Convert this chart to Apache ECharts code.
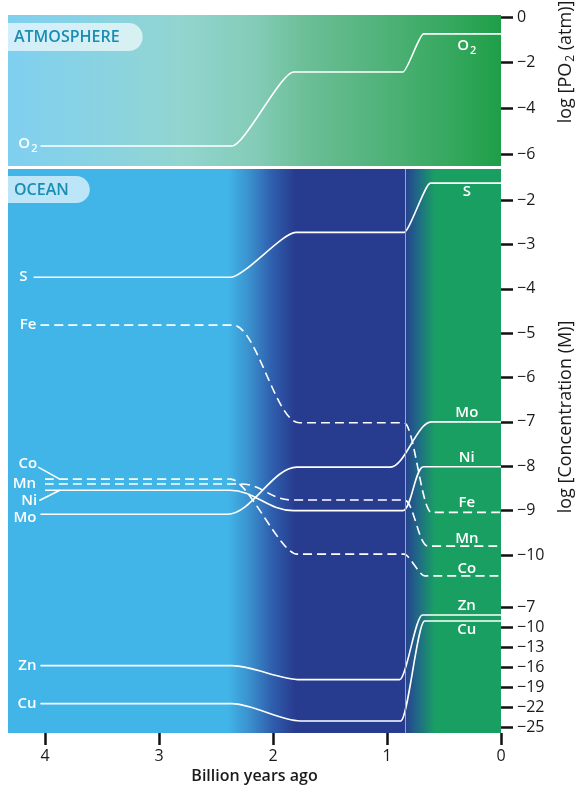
<!DOCTYPE html>
<html><head><meta charset="utf-8">
<script src="https://cdn.jsdelivr.net/npm/echarts@6/dist/echarts.min.js"></script>
<style>html,body{margin:0;padding:0;background:#fff}#c{width:575px;height:785px}</style>
</head><body><div id="c"></div>
<script>
// ---- data (age in billion years ago, log values) ----
const xTicks = [4, 3, 2, 1, 0];
const atmTicks = [0, -2, -4, -6];
const oceanTicks = [-2, -3, -4, -5, -6, -7, -8, -9, -10];
const znCuTicks = [-7, -10, -13, -16, -19, -22, -25];

const o2 = [[4.04,-5.65],[2.36,-5.65],[1.82,-2.41],[0.86,-2.41],[0.68,-0.74],[0,-0.74]];
const sulfur = [[4.10,-3.74],[2.37,-3.74],[1.80,-2.73],[0.85,-2.73],[0.62,-1.62],[0,-1.62]];
const iron = [[4.04,-4.82],[2.35,-4.82],[1.77,-7.02],[0.85,-7.02],[0.61,-9.04],[0,-9.04]];
const cobalt = [[4.0,-8.29],[2.37,-8.29],[1.79,-9.98],[0.85,-9.98],[0.67,-10.47],[0,-10.47]];
const manganese = [[4.0,-8.40],[2.28,-8.40],[1.84,-8.76],[0.85,-8.76],[0.64,-9.80],[0,-9.80]];
const nickel = [[4.0,-8.54],[2.38,-8.54],[1.82,-9.00],[0.86,-9.00],[0.68,-8.01],[0,-8.01]];
const molybdenum = [[4.04,-9.08],[2.40,-9.08],[1.79,-8.02],[0.97,-8.02],[0.61,-7.00],[0,-7.00]];
const zinc = [[4.04,-15.8],[2.36,-15.8],[1.76,-17.9],[0.89,-17.9],[0.69,-8.2],[0,-8.2]];
const copper = [[4.04,-21.5],[2.36,-21.5],[1.76,-24.1],[0.88,-24.1],[0.67,-9.1],[0,-9.1]];
const coLeader = [[4.06,-8.02],[3.87,-8.29]];
const niLeader = [[4.05,-8.77],[3.87,-8.54]];
const transitionAge = 0.84;
const rightLabelAge = 0.3;

// ---- helpers ----
const FONT = '"Open Sans", "Noto Sans", sans-serif';
const minus = v => (v < 0 ? '\u2212' + Math.abs(v) : String(v));
const labelBase = {color:'#fff', fontFamily: FONT, fontSize: 15, fontWeight: 600,
  rich: {s: {fontSize: 11, fontWeight: 600, color:'#fff', fontFamily: FONT, padding:[9,0,0,1]}}};

function mark(coord, text, pos, dist, offset) {
  return {coord: coord, symbol:'circle', symbolSize: 0,
    label: Object.assign({show:true, position: pos, distance: dist, offset: offset || [0,0], formatter: text}, labelBase)};
}
function first(arr){ return arr[0]; }
function last(arr){ return arr[arr.length-1]; }

function lineSeries(name, data, opt) {
  opt = opt || {};
  return {
    type:'line', name: name, data: data,
    xAxisIndex: opt.axis, yAxisIndex: opt.axis,
    showSymbol:false, symbol:'none', clip:false,
    smooth: opt.smooth != null ? opt.smooth : 0.3, smoothMonotone:'x',
    lineStyle:{color:'#fff', width: 1.6, type: opt.dashed ? [9,5] : 'solid'},
    silent:true, animation:false, z: 3,
    markPoint: opt.marks ? {silent:true, animation:false, data: opt.marks} : undefined,
    markLine: opt.markLine
  };
}

const axisTickStyle = {show:true, inside:false, length:12, lineStyle:{color:'#111', width:2.5}};
const axisLabelStyle = {color:'#1a1a1a', fontFamily: FONT, fontSize: 16, margin: 16};

const X0 = 4.3246;
function xAxis(i, visible) {
  return {type:'value', gridIndex:i, min:0, max:X0, inverse:true,
    show: visible,
    axisLine:{show:false}, splitLine:{show:false},
    axisTick: Object.assign({}, axisTickStyle, {customValues: xTicks}),
    axisLabel: Object.assign({}, axisLabelStyle, {margin: 15, customValues: xTicks}),
    name: visible ? 'Billion years ago' : '', nameLocation:'middle', nameGap: 32,
    nameTextStyle:{color:'#1a1a1a', fontFamily: FONT, fontSize: 16, fontWeight: 600}};
}
function yAxis(i, min, max, ticks) {
  return {type:'value', gridIndex:i, position:'right', min:min, max:max,
    axisLine:{show:false}, splitLine:{show:false},
    axisTick: Object.assign({}, axisTickStyle, {customValues: ticks}),
    axisLabel: Object.assign({}, axisLabelStyle, {customValues: ticks, formatter: minus})};
}

const atmGradient = {type:'linear', x:0, y:0, x2:1, y2:0, colorStops:[
  {offset:0, color:'#7fcff0'}, {offset:0.2, color:'#8ad3e0'}, {offset:0.35, color:'#92d5d0'},
  {offset:0.5, color:'#84ccb8'}, {offset:0.6, color:'#6cbf98'}, {offset:0.75, color:'#52b37b'},
  {offset:0.9, color:'#35a85e'}, {offset:1, color:'#1f9e48'}]};
const oceanGradient = {type:'linear', x:0, y:0, x2:1, y2:0, colorStops:[
  {offset:0, color:'#41b5e8'}, {offset:0.446, color:'#41b5e8'}, {offset:0.491, color:'#3a8fcc'},
  {offset:0.535, color:'#2f5fae'}, {offset:0.582, color:'#283c8f'}, {offset:0.803, color:'#283c8f'},
  {offset:0.832, color:'#1f6a86'}, {offset:0.866, color:'#1a9f63'}, {offset:1, color:'#1a9f63'}]};

const gridBase = {left:8, width:493, containLabel:false, outerBoundsMode:'none', borderWidth:0};
const option = {
  backgroundColor:'#fff',
  animation:false,
  grid:[
    Object.assign({}, gridBase, {top:15, height:151, show:true, backgroundColor: atmGradient}),
    Object.assign({}, gridBase, {top:169, height:564, show:true, backgroundColor: oceanGradient}),
    Object.assign({}, gridBase, {top:607, height:120, show:false})
  ],
  xAxis:[xAxis(0,false), xAxis(1,true), xAxis(2,false)],
  yAxis:[
    yAxis(0, -6.526, 0.088, atmTicks),
    yAxis(1, -14.011, -1.3014, oceanTicks),
    yAxis(2, -25, -7, znCuTicks)
  ],
  series:[
    lineSeries('O2', o2, {axis:0, smooth:0.2, marks:[
      mark(first(o2), 'O{s|2}', 'left', 3, [0,-2]),
      mark([rightLabelAge, last(o2)[1]], 'O{s|2}', 'bottom', 2)]}),
    lineSeries('S', sulfur, {axis:1, smooth:0.2, marks:[
      mark(first(sulfur), 'S', 'left', 6),
      mark([rightLabelAge, last(sulfur)[1]], 'S', 'bottom', 1)],
      markLine:{silent:true, animation:false, symbol:['none','none'], label:{show:false},
        lineStyle:{color:'#98a2d8', width:1, type:'solid'}, data:[{xAxis: transitionAge}]}}),
    lineSeries('Fe', iron, {axis:1, dashed:true, smooth:0.35, marks:[
      mark(first(iron), 'Fe', 'left', 4),
      mark([rightLabelAge, last(iron)[1]], 'Fe', 'top', 2)]}),
    lineSeries('Co', cobalt, {axis:1, dashed:true, smooth:0.25, marks:[
      mark(first(coLeader), 'Co', 'left', 1, [0,-3]),
      mark([rightLabelAge, last(cobalt)[1]], 'Co', 'top', 0)]}),
    lineSeries('Mn', manganese, {axis:1, dashed:true, smooth:0.4, marks:[
      mark(first(manganese), 'Mn', 'left', 9),
      mark([rightLabelAge, last(manganese)[1]], 'Mn', 'top', 0)]}),
    lineSeries('Ni', nickel, {axis:1, smooth:0.4, marks:[
      mark(first(niLeader), 'Ni', 'left', 2, [0,0]),
      mark([rightLabelAge, last(nickel)[1]], 'Ni', 'top', 1)]}),
    lineSeries('Mo', molybdenum, {axis:1, smooth:0.35, marks:[
      mark(first(molybdenum), 'Mo', 'left', 4, [0,4]),
      mark([rightLabelAge, last(molybdenum)[1]], 'Mo', 'top', 2)]}),
    lineSeries('CoLeader', coLeader, {axis:1, smooth:0}),
    lineSeries('NiLeader', niLeader, {axis:1, smooth:0}),
    lineSeries('Zn', zinc, {axis:2, smooth:0.3, marks:[
      mark(first(zinc), 'Zn', 'left', 4),
      mark([rightLabelAge, last(zinc)[1]], 'Zn', 'top', 2)]}),
    lineSeries('Cu', copper, {axis:2, smooth:0.3, marks:[
      mark(first(copper), 'Cu', 'left', 4),
      mark([rightLabelAge, last(copper)[1]], 'Cu', 'bottom', 1)]})
  ],
  graphic:[
    {type:'text', left:8, top:23, z:10, style:{text:'ATMOSPHERE', fill:'#1a8db3',
      font:'600 16px ' + FONT, backgroundColor:'rgba(255,255,255,0.65)',
      padding:[5,23,5,6], borderRadius:[0,14,14,0], lineHeight:18}},
    {type:'text', left:8, top:176, z:10, style:{text:'OCEAN', fill:'#1a8db3',
      font:'600 16px ' + FONT, backgroundColor:'rgba(255,255,255,0.65)',
      padding:[5,21,4,6], borderRadius:[0,14,14,0], lineHeight:18}},
    {type:'text', x:566, y:62, rotation:Math.PI/2, z:10, style:{text:'log [PO{s|2} (atm)]',
      fill:'#1a1a1a', font:'18px ' + FONT, align:'center', verticalAlign:'middle',
      rich:{s:{fontSize:12, fill:'#1a1a1a', fontFamily:FONT, padding:[10,0,0,1]}}}},
    {type:'text', x:566, y:417, rotation:Math.PI/2, z:10, style:{text:'log [Concentration (M)]',
      fill:'#1a1a1a', font:'18px ' + FONT, align:'center', verticalAlign:'middle'}}
  ]
};

const chart = echarts.init(document.getElementById('c'), null, {renderer:'canvas'});
chart.setOption(option);
</script>
</body></html>
